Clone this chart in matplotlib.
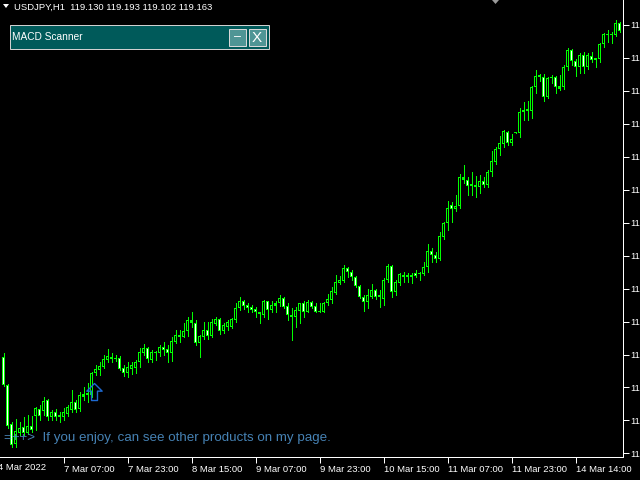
import numpy as np
import matplotlib.pyplot as plt
from matplotlib.patches import Rectangle, Polygon
from matplotlib.path import Path

# USDJPY H1 bars (oldest first)
opens = [115.35, 115.10, 114.76, 114.58, 114.68, 114.73, 114.68, 114.74, 114.83, 114.89,
         114.87, 114.97, 114.82, 114.86, 114.82, 114.82, 114.85, 114.88, 114.95, 114.89,
         115.00, 115.03, 115.01, 115.21, 115.23, 115.26, 115.32, 115.35, 115.33, 115.34,
         115.25, 115.21, 115.24, 115.25, 115.30, 115.38, 115.43, 115.32, 115.39, 115.38,
         115.44, 115.42, 115.38, 115.48, 115.54, 115.52, 115.58, 115.67, 115.65, 115.47,
         115.52, 115.59, 115.53, 115.64, 115.68, 115.58, 115.61, 115.61, 115.67, 115.78,
         115.84, 115.81, 115.79, 115.77, 115.74, 115.72, 115.84, 115.76, 115.80, 115.82,
         115.87, 115.80, 115.72, 115.70, 115.75, 115.82, 115.74, 115.83, 115.80, 115.74,
         115.74, 115.82, 115.85, 115.91, 116.00, 116.02, 116.13, 116.10, 116.05, 115.97,
         115.88, 115.83, 115.88, 115.94, 115.88, 115.86, 116.03, 116.15, 115.92, 116.00,
         116.07, 116.05, 116.07, 116.09, 116.08, 116.08, 116.14, 116.28, 116.25, 116.21,
         116.40, 116.53, 116.69, 116.65, 116.68, 116.93, 116.91, 116.85, 116.86, 116.84,
         116.90, 116.86, 116.98, 117.06, 117.18, 117.22, 117.33, 117.23, 117.32, 117.32,
         117.50, 117.53, 117.51, 117.72, 117.83, 117.81, 117.64, 117.80, 117.81, 117.71,
         117.72, 117.90, 118.05, 117.95, 117.90, 118.01, 117.90, 118.00, 117.96, 117.97,
         118.10, 118.19, 118.18, 118.18, 118.29]
highs = [115.38, 115.11, 114.78, 114.80, 114.78, 114.82, 114.84, 114.83, 114.91, 114.93,
         115.00, 114.98, 114.88, 114.89, 114.86, 114.90, 114.93, 115.06, 114.97, 115.04,
         115.08, 115.12, 115.22, 115.28, 115.30, 115.37, 115.42, 115.38, 115.37, 115.36,
         115.28, 115.30, 115.30, 115.32, 115.43, 115.46, 115.44, 115.41, 115.40, 115.45,
         115.48, 115.45, 115.52, 115.59, 115.59, 115.65, 115.70, 115.74, 115.67, 115.54,
         115.66, 115.66, 115.68, 115.70, 115.69, 115.65, 115.67, 115.69, 115.82, 115.88,
         115.85, 115.82, 115.81, 115.79, 115.74, 115.85, 115.84, 115.84, 115.84, 115.89,
         115.88, 115.82, 115.78, 115.79, 115.82, 115.84, 115.85, 115.84, 115.82, 115.82,
         115.83, 115.90, 115.96, 116.07, 116.06, 116.16, 116.14, 116.11, 116.06, 115.98,
         115.89, 115.95, 115.99, 115.95, 115.94, 116.04, 116.17, 116.16, 116.03, 116.09,
         116.10, 116.09, 116.09, 116.11, 116.10, 116.18, 116.34, 116.31, 116.27, 116.45,
         116.54, 116.72, 116.71, 116.77, 116.96, 117.04, 116.93, 116.98, 116.94, 116.95,
         116.93, 116.99, 117.16, 117.20, 117.29, 117.35, 117.34, 117.31, 117.33, 117.54,
         117.59, 117.60, 117.73, 117.87, 117.84, 117.84, 117.81, 117.83, 117.82, 117.83,
         117.92, 118.07, 118.06, 117.97, 118.02, 118.03, 118.02, 118.03, 117.98, 118.11,
         118.20, 118.23, 118.21, 118.31, 118.30]
lows = [115.09, 114.72, 114.56, 114.56, 114.66, 114.66, 114.67, 114.69, 114.71, 114.79,
        114.84, 114.79, 114.79, 114.79, 114.78, 114.79, 114.83, 114.86, 114.86, 114.87,
        114.97, 114.95, 115.00, 115.19, 115.19, 115.25, 115.30, 115.30, 115.31, 115.23,
        115.18, 115.17, 115.20, 115.21, 115.26, 115.37, 115.30, 115.30, 115.32, 115.36,
        115.37, 115.30, 115.31, 115.47, 115.48, 115.52, 115.53, 115.61, 115.45, 115.35,
        115.51, 115.51, 115.52, 115.63, 115.55, 115.56, 115.59, 115.60, 115.66, 115.76,
        115.77, 115.74, 115.74, 115.70, 115.65, 115.70, 115.68, 115.74, 115.74, 115.80,
        115.78, 115.67, 115.50, 115.61, 115.65, 115.70, 115.74, 115.78, 115.74, 115.74,
        115.74, 115.81, 115.82, 115.90, 115.99, 116.01, 116.05, 116.03, 115.96, 115.87,
        115.75, 115.78, 115.87, 115.86, 115.79, 115.81, 116.01, 115.88, 115.89, 115.98,
        116.01, 116.01, 116.00, 116.05, 116.03, 116.07, 116.10, 116.18, 116.18, 116.20,
        116.39, 116.47, 116.54, 116.63, 116.66, 116.88, 116.77, 116.77, 116.76, 116.79,
        116.84, 116.84, 116.94, 117.05, 117.13, 117.20, 117.21, 117.21, 117.32, 117.28,
        117.43, 117.43, 117.45, 117.67, 117.78, 117.60, 117.63, 117.76, 117.67, 117.70,
        117.71, 117.87, 117.92, 117.82, 117.85, 117.85, 117.88, 117.94, 117.90, 117.94,
        118.08, 118.12, 118.11, 118.17, 118.21]
closes = [115.10, 114.74, 114.57, 114.70, 114.72, 114.68, 114.74, 114.71, 114.90, 114.83,
          114.96, 114.82, 114.86, 114.82, 114.84, 114.86, 114.91, 114.95, 114.88, 115.01,
          115.02, 115.01, 115.21, 115.24, 115.27, 115.33, 115.36, 115.33, 115.34, 115.24,
          115.21, 115.26, 115.28, 115.30, 115.39, 115.43, 115.33, 115.39, 115.38, 115.44,
          115.41, 115.38, 115.49, 115.54, 115.52, 115.58, 115.67, 115.65, 115.47, 115.53,
          115.59, 115.53, 115.66, 115.68, 115.58, 115.63, 115.66, 115.68, 115.78, 115.84,
          115.80, 115.78, 115.76, 115.74, 115.73, 115.84, 115.76, 115.81, 115.82, 115.87,
          115.79, 115.72, 115.70, 115.76, 115.82, 115.74, 115.83, 115.79, 115.74, 115.75,
          115.82, 115.86, 115.93, 116.01, 116.03, 116.13, 116.10, 116.05, 115.97, 115.88,
          115.83, 115.89, 115.94, 115.88, 115.89, 116.03, 116.15, 115.92, 116.01, 116.08,
          116.05, 116.07, 116.05, 116.06, 116.09, 116.14, 116.28, 116.25, 116.21, 116.41,
          116.53, 116.66, 116.65, 116.68, 116.93, 116.91, 116.85, 116.87, 116.84, 116.90,
          116.86, 116.98, 117.07, 117.18, 117.23, 117.34, 117.23, 117.27, 117.33, 117.50,
          117.52, 117.51, 117.72, 117.82, 117.81, 117.64, 117.80, 117.81, 117.72, 117.73,
          117.90, 118.05, 117.95, 117.90, 118.01, 117.90, 118.01, 117.96, 117.98, 118.10,
          118.19, 118.18, 118.19, 118.29, 118.22]

time_labels = ['7 Mar 07:00', '7 Mar 23:00', '8 Mar 15:00', '9 Mar 07:00', '9 Mar 23:00',
               '10 Mar 15:00', '11 Mar 07:00', '11 Mar 23:00', '14 Mar 14:00']
first_date = '4 Mar 2022'
price_ticks = [114.50, 114.79, 115.08, 115.37, 115.66, 115.95, 116.24, 116.53, 116.82,
               117.11, 117.40, 117.69, 117.98, 118.27]
signal_bars = [22.75]
signal_prices = [115.04]

header = 'USDJPY,H1  119.130 119.193 119.102 119.163'
footer = '=++>  If you enjoy, can see other products on my page.'
panel_title = 'MACD Scanner'

FONT = 'Liberation Sans'
LIME = '#00ff00'
PX = 0.72  # one pixel in points at dpi 100

o = np.array(opens)
h = np.array(highs)
l = np.array(lows)
c = np.array(closes)
x = np.arange(len(o))
bull = c >= o

fig = plt.figure(figsize=(6.4, 4.8), dpi=100, facecolor='black')
ax = fig.add_axes([0, 23 / 480, 623 / 640, 457 / 480], facecolor='black')
ymin, ymax = 114.468, 118.49
ppx = (ymax - ymin) / 457  # price per screen pixel

ax.vlines(x, l, h, color=LIME, lw=PX, antialiased=False, zorder=2)

# body: a 3 px lime block, then a 1 px black (bull) / white (bear) core
body_lo = np.minimum(o, c)
body_h = np.maximum(np.abs(c - o), ppx)
ax.bar(x, body_h, bottom=body_lo, width=0.75, color=LIME, linewidth=0,
       antialiased=False, zorder=3)
core = body_h > 2.5 * ppx
ax.bar(x[core], body_h[core] - 2 * ppx, bottom=body_lo[core] + ppx, width=0.25,
       color=np.where(bull[core], 'black', 'white'), linewidth=0,
       antialiased=False, zorder=4)

# buy signal arrow
arrow = Path([(0, 1), (0.9, 0.1), (0.35, 0.1), (0.35, -1), (-0.35, -1),
              (-0.35, 0.1), (-0.9, 0.1), (0, 1)], closed=True)
ax.scatter(signal_bars, signal_prices, marker=arrow, s=150, facecolors='none',
           edgecolors='#1e6ad2', linewidths=1.0, zorder=5)

ax.set_xlim(-0.875, 154.875)
ax.set_ylim(ymin, ymax)

for side in ['left', 'top']:
    ax.spines[side].set_visible(False)
for side in ['right', 'bottom']:
    ax.spines[side].set_color('white')
    ax.spines[side].set_linewidth(PX)

ax.yaxis.tick_right()
ax.set_yticks(price_ticks)
ax.set_yticklabels([f'{v:.3f}' for v in price_ticks])
ax.set_xticks(range(15, len(o), 16))
ax.set_xticklabels(time_labels)
ax.tick_params(colors='white', width=PX, length=4, labelsize=6.8, pad=1.5)
for lbl in ax.get_xticklabels():
    lbl.set_ha('left')
    lbl.set_fontfamily(FONT)
for lbl in ax.get_yticklabels():
    lbl.set_fontfamily(FONT)
ax.text(-1.375, -0.013, first_date, transform=ax.get_xaxis_transform(), color='white',
        fontsize=6.8, family=FONT, ha='left', va='top', clip_on=False)

# overlay in pixel coordinates for the terminal decorations
ov = fig.add_axes([0, 0, 1, 1], facecolor='none')
ov.set_xlim(0, 640)
ov.set_ylim(480, 0)
ov.axis('off')

ov.add_patch(Polygon([(3, 4), (9, 4), (6, 8)], closed=True, color='white', lw=0))
ov.text(14, 7, header, color='white', fontsize=6.8, family=FONT, va='center', ha='left')
ov.add_patch(Polygon([(492, 0), (499, 0), (495.5, 4)], closed=True, color='#9a9a9a', lw=0))

ov.add_patch(Rectangle((9.5, 24.5), 259, 24, facecolor='#005a5a', edgecolor='#d0d0d0', lw=PX))
ov.text(12, 37, panel_title, color='white', fontsize=7.3, family=FONT, va='center', ha='left')
for bx, sym in [(228.5, '\u2013'), (248.5, 'X')]:
    ov.add_patch(Rectangle((bx, 28.5), 17, 17, facecolor='#4f9595', edgecolor='#d8d8d8', lw=PX))
    ov.text(bx + 8.5, 37.5, sym, color='white', fontsize=11 if sym == 'X' else 9,
            family=FONT, va='center', ha='center')

ov.text(4, 438, footer, color='#4682b4', fontsize=9.6, family=FONT, va='center', ha='left')

fig.savefig('out.png', dpi=100, facecolor='black')
